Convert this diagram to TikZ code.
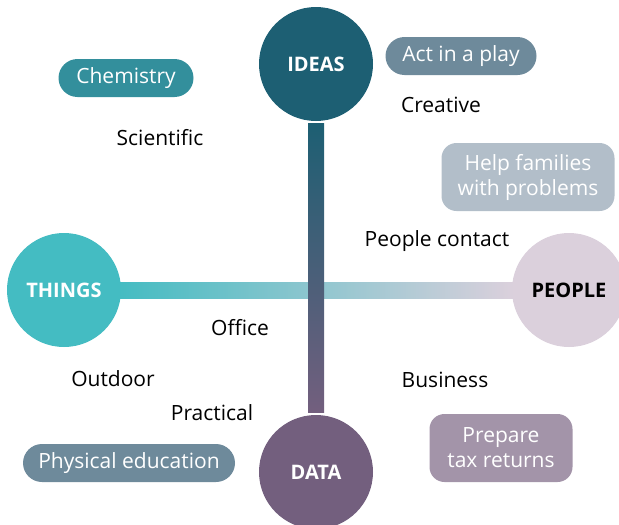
\documentclass[tikz,border=0pt]{standalone}
\usepackage{fontspec}
\setmainfont{Open Sans}
\usetikzlibrary{positioning}
\definecolor{ideasc}{HTML}{1D5F73}
\definecolor{datac}{HTML}{735F7E}
\definecolor{thingsc}{HTML}{44BCC2}
\definecolor{peoplec}{HTML}{DBD0DC}
\definecolor{chemc}{HTML}{338F9C}
\definecolor{slatec}{HTML}{6E8A9B}
\definecolor{palec}{HTML}{B2BEC9}
\definecolor{mauvec}{HTML}{A394A9}
\tikzset{
  hub/.style   = {circle, minimum size=114pt, inner sep=0pt, text=white,
                  font=\bfseries\fontsize{20}{23}\selectfont},
  pill/.style  = {rectangle, rounded corners=19pt, minimum height=38pt,
                  inner sep=0pt, text=white, align=center,
                  font=\fontsize{21}{25}\selectfont},
  card/.style  = {pill, rounded corners=15pt, minimum height=68pt},
  tag/.style   = {inner sep=0pt, text=black, font=\fontsize{21}{25}\selectfont}
}
\begin{document}
\begin{tikzpicture}[x=1pt,y=-1pt]
\useasboundingbox (0,0) rectangle (619,525);

% the four hubs
\node[hub, fill=ideasc] (ideas) at (316,64) {IDEAS};
\node[hub, fill=datac] (data) at (316,472) {DATA};
\node[hub, fill=thingsc] (things) at (64,290) {THINGS};
\node[hub, fill=peoplec, text=black] (people) at (569,290) {PEOPLE};

% the two axes between them
\shade[left color=thingsc, right color=peoplec]
  ([yshift=-8pt,xshift=-2pt]things.east) rectangle ([yshift=8pt,xshift=2pt]people.west);
\shade[top color=ideasc, bottom color=datac]
  ([xshift=-8pt,yshift=-2pt]ideas.south) rectangle ([xshift=8pt,yshift=2pt]data.north);

% example jobs
\node[pill, fill=chemc, minimum width=135pt] (chem) at (126,78) {Chemistry};
\node[pill, fill=slatec, minimum width=151pt] (play) at (461,56) {Act in a play};
\node[card, fill=palec, minimum width=173pt] (help) at (528,177) {Help families\\with problems};
\node[pill, fill=slatec, minimum width=212pt] (pe) at (129,463) {Physical education};
\node[card, fill=mauvec, minimum width=143pt] (tax) at (501,448) {Prepare\\tax returns};

% interest labels
\node[tag] (creative) at (441,105) {Creative};
\node[tag] (scientific) at (160,138) {Scientific};
\node[tag] (contact) at (437,241) {People contact};
\node[tag] (office) at (240,328) {Office};
\node[tag] (outdoor) at (113,379) {Outdoor};
\node[tag] (business) at (445,380) {Business};
\node[tag] (practical) at (212,413) {Practical};

\end{tikzpicture}
\end{document}
